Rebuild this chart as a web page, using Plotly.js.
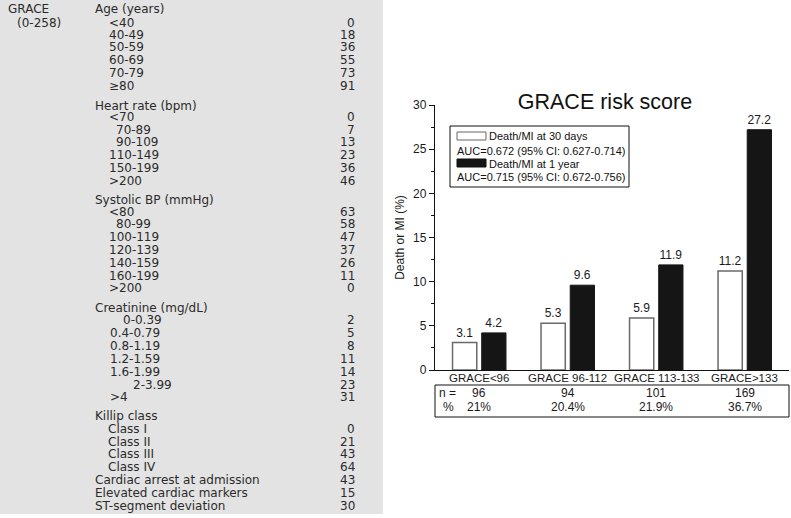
<!DOCTYPE html>
<html>
<head>
<meta charset="utf-8">
<script src="https://cdn.plot.ly/plotly-3.0.1.min.js"></script>
<style>html,body{margin:0;padding:0;background:#fff;}#chart{width:791px;height:518px;}</style>
</head>
<body>
<div id="chart"></div>
<script>
// ---- Bar chart data ----
const groups = ['GRACE<96', 'GRACE 96-112', 'GRACE 113-133', 'GRACE>133'];
const death30d = [3.1, 5.3, 5.9, 11.2];
const death1y = [4.2, 9.6, 11.9, 27.2];
const nPatients = ['96', '94', '101', '169'];
const pctPatients = ['21%', '20.4%', '21.9%', '36.7%'];
const yTickVals = [0, 5, 10, 15, 20, 25, 30];
const legend30d = ['Death/MI at 30 days', 'AUC=0.672 (95% CI: 0.627-0.714)'];
const legend1y = ['Death/MI at 1 year', 'AUC=0.715 (95% CI: 0.672-0.756)'];

// ---- GRACE score table data ----
const scoreTitle = ['GRACE', '(0-258)'];
const sectionHeads = ['Age (years)', 'Heart rate (bpm)', 'Systolic BP (mmHg)', 'Creatinine (mg/dL)', 'Killip class'];
const ageLabels = ['<40', '40-49', '50-59', '60-69', '70-79', '≥80'];
const agePoints = [0, 18, 36, 55, 73, 91];
const hrLabels = ['<70', '70-89', '90-109', '110-149', '150-199', '>200'];
const hrPoints = [0, 7, 13, 23, 36, 46];
const sbpLabels = ['<80', '80-99', '100-119', '120-139', '140-159', '160-199', '>200'];
const sbpPoints = [63, 58, 47, 37, 26, 11, 0];
const creatLabels = ['0-0.39', '0.4-0.79', '0.8-1.19', '1.2-1.59', '1.6-1.99', '2-3.99', '>4'];
const creatPoints = [2, 5, 8, 11, 14, 23, 31];
const killipLabels = ['Class I', 'Class II', 'Class III', 'Class IV'];
const killipPoints = [0, 21, 43, 64];
const otherLabels = ['Cardiac arrest at admission', 'Elevated cardiac markers', 'ST-segment deviation'];
const otherPoints = [43, 15, 30];

// ---- layout helpers (pixel -> paper) ----
const W = 791, H = 518;
const px = x => x / W;
const py = y => 1 - y / H;
const esc = s => String(s).replace(/&/g, '&amp;').replace(/</g, '&lt;').replace(/>/g, '&gt;');

const tblFont = {family: 'DejaVu Sans', size: 12, color: '#2b2b2b'};
const chFont = {family: 'Liberation Sans, Arial, sans-serif', size: 12, color: '#1a1a1a'};
const catFont = {family: 'Liberation Sans, Arial, sans-serif', size: 11.5, color: '#1a1a1a'};

const annotations = [];
const shapes = [];

function addText(text, x, y, anchor, font) {
  annotations.push({xref: 'paper', yref: 'paper', x: px(x), y: py(y), text: esc(text),
    showarrow: false, xanchor: anchor, yanchor: 'middle', borderpad: 0, font: font || tblFont});
}

// table row positions (layout only)
const headX = 94, valX = 356;
const sections = [
  {head: sectionHeads[0], headY: 9, labels: ageLabels, pts: agePoints,
   ys: [22.7, 35, 47.5, 60, 73, 86], xs: [108, 108, 108, 108, 108, 108]},
  {head: sectionHeads[1], headY: 106.5, labels: hrLabels, pts: hrPoints,
   ys: [117, 129.5, 142, 155, 168, 181], xs: [108, 115, 115, 108, 108, 108]},
  {head: sectionHeads[2], headY: 200, labels: sbpLabels, pts: sbpPoints,
   ys: [212, 224.5, 237, 250, 262.5, 275.5, 288], xs: [108, 115, 108, 108, 108, 108, 108]},
  {head: sectionHeads[3], headY: 307.5, labels: creatLabels, pts: creatPoints,
   ys: [320, 333, 345.5, 358.5, 371.5, 384.5, 397], xs: [122, 109, 109, 109, 109, 131.5, 109]},
  {head: sectionHeads[4], headY: 416, labels: killipLabels, pts: killipPoints,
   ys: [428.5, 441.5, 454, 467], xs: [107, 107, 107, 107]}
];

// grey panel
shapes.push({type: 'rect', xref: 'paper', yref: 'paper', x0: px(0), x1: px(383), y0: py(514), y1: py(0),
  fillcolor: '#e3e3e3', line: {width: 0}, layer: 'below'});

addText(scoreTitle[0], 7, 9, 'left');
addText(scoreTitle[1], 15.5, 22.7, 'left');
sections.forEach(s => {
  addText(s.head, headX, s.headY, 'left');
  s.labels.forEach((lab, i) => {
    addText(lab, s.xs[i], s.ys[i], 'left');
    addText(s.pts[i], valX, s.ys[i], 'right');
  });
});
const otherYs = [480, 493, 505.7];
otherLabels.forEach((lab, i) => {
  addText(lab, headX, otherYs[i], 'left');
  addText(otherPoints[i], valX, otherYs[i], 'right');
});

// ---- chart legend (manual box) ----
shapes.push({type: 'rect', xref: 'paper', yref: 'paper', x0: px(450), x1: px(629), y0: py(187), y1: py(126),
  line: {color: '#111', width: 1}, fillcolor: 'rgba(0,0,0,0)'});
shapes.push({type: 'rect', xref: 'paper', yref: 'paper', x0: px(457), x1: px(486), y0: py(140), y1: py(132),
  line: {color: '#666', width: 1}, fillcolor: '#fff'});
shapes.push({type: 'rect', xref: 'paper', yref: 'paper', x0: px(457), x1: px(486), y0: py(167), y1: py(159),
  line: {color: '#111', width: 1}, fillcolor: '#151515'});
const legFont = {family: 'Liberation Sans, Arial, sans-serif', size: 11, color: '#111'};
addText(legend30d[0], 488, 136, 'left', legFont);
addText(legend30d[1], 456, 150.5, 'left', legFont);
addText(legend1y[0], 488, 163.5, 'left', legFont);
addText(legend1y[1], 456, 177, 'left', legFont);

// ---- category labels (as annotations on the category axis) ----
groups.forEach(g => {
  annotations.push({xref: 'x', yref: 'paper', x: g, y: py(378), text: esc(g), showarrow: false,
    xanchor: 'center', yanchor: 'middle', font: catFont});
});

// ---- n / % table under the chart ----
shapes.push({type: 'rect', xref: 'paper', yref: 'paper', x0: px(435), x1: px(789), y0: py(417), y1: py(385),
  line: {color: '#111', width: 1}, fillcolor: 'rgba(0,0,0,0)'});
addText('n =', 438, 393, 'left', chFont);
addText('%', 442, 407, 'left', chFont);
groups.forEach((g, i) => {
  annotations.push({xref: 'x', yref: 'paper', x: g, y: py(393), text: nPatients[i], showarrow: false,
    xanchor: 'center', yanchor: 'middle', font: chFont});
  annotations.push({xref: 'x', yref: 'paper', x: g, y: py(407), text: pctPatients[i], showarrow: false,
    xanchor: 'center', yanchor: 'middle', font: chFont});
});

const traces = [
  {type: 'bar', x: groups, y: death30d, name: legend30d[0],
   marker: {color: '#ffffff', line: {color: '#6a6a6a', width: 1.5}},
   text: death30d.map(v => v.toFixed(1)), textposition: 'outside', cliponaxis: false,
   textfont: chFont, hoverinfo: 'x+y'},
  {type: 'bar', x: groups, y: death1y, name: legend1y[0],
   marker: {color: '#151515', line: {color: '#151515', width: 1}},
   text: death1y.map(v => v.toFixed(1)), textposition: 'outside', cliponaxis: false,
   textfont: chFont, hoverinfo: 'x+y'}
];

const layout = {
  width: W, height: H,
  margin: {l: 0, r: 0, t: 0, b: 0},
  paper_bgcolor: '#ffffff', plot_bgcolor: 'rgba(0,0,0,0)',
  showlegend: false,
  barmode: 'group', bargap: 0.34, bargroupgap: 0.17,
  title: {text: 'GRACE risk score', font: {family: 'Liberation Sans, Arial, sans-serif', size: 21.5, color: '#111'},
    x: px(605), xanchor: 'center', y: py(101), yanchor: 'middle', xref: 'paper', yref: 'paper'},
  xaxis: {domain: [px(435), px(789)], showline: true, linecolor: '#111', linewidth: 1.2,
    ticks: '', showticklabels: false, showgrid: false, zeroline: false, fixedrange: true, automargin: false},
  yaxis: {domain: [py(370), py(105)], range: [0, 30], tickvals: yTickVals, showline: true, linecolor: '#111',
    linewidth: 1.2, ticks: 'outside', ticklen: 5, tickcolor: '#111', showgrid: false, zeroline: false,
    minor: {dtick: 2.5, ticks: 'outside', ticklen: 3, tickcolor: '#111', showgrid: false},
    tickfont: chFont, automargin: false, fixedrange: true,
    title: {text: 'Death or MI (%)', font: chFont, standoff: 5}},
  annotations: annotations,
  shapes: shapes,
  font: chFont
};

Plotly.newPlot('chart', traces, layout, {staticPlot: true, displayModeBar: false});
</script>
</body>
</html>
